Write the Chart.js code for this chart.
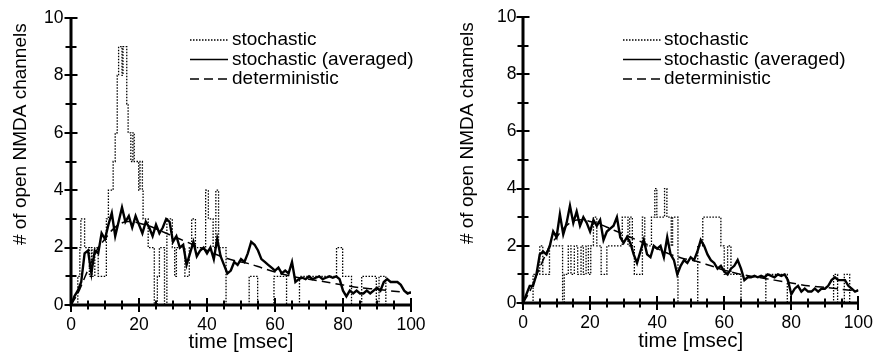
<!DOCTYPE html>
<html>
<head>
<meta charset="utf-8">
<script src="https://cdn.jsdelivr.net/npm/chart.js@4/dist/chart.umd.min.js"></script>
<style>
  body { margin: 0; background: #fff; }
  .panel { position: absolute; top: 0; width: 441px; height: 355px; }
</style>
</head>
<body>
<div class="panel" style="left:0"><canvas id="left" width="441" height="355"></canvas></div>
<div class="panel" style="left:442px"><canvas id="right" width="441" height="355"></canvas></div>
<script>
// labels
const seriesNames = ['stochastic', 'stochastic (averaged)', 'deterministic'];
const xTitle = 'time [msec]';
const yTitle = '# of open NMDA channels ';

// time grid of the averaged traces (msec)
const avgTime = [0,1,2,3,4,5,6,7,8,9,10,11,12,13,14,15,16,17,18,19,20,21,22,23,24,25,26,27,28,29,30,
  31,32,33,34,35,36,37,38,39,40,41,42,43,44,45,46,47,48,49,50,51,52,53,54,55,56,57,58,59,60,
  61,62,63,64,65,66,67,68,69,70,71,72,73,74,75,76,77,78,79,80,81,82,83,84,85,86,87,88,89,90,
  91,92,93,94,95,96,97,98,99,100];

// left panel: single stochastic run (step changes)
const leftStochT = [0,2.0,2.6,2.9,4.0,5.4,6.0,6.2,7.0,8.0,10.4,11.0,12.4,13.0,13.6,14.0,15.0,15.3,16.4,16.8,
  17.6,18.2,18.6,19.9,20.3,21.0,21.2,22.7,24.5,25.4,26.0,27.5,28.2,29.8,30.5,31.0,33.5,34.8,35.5,36.6,
  39.6,40.4,41.8,42.6,43.4,45.6,52.4,54.9,59.7,63.4,67.2,78.1,79.9,82.5,85.5,89.8,90.6,92.6,100];
const leftStochV = [0,1,2,3,2,1,2,1,2,1,3,4,5,6,8,9,8,9,7,6,
  5,6,5,4,5,4,3,2,0,1,2,0,3,2,1,2,1,2,3,2,
  4,3,2,4,2,0,1,0,1,0,1,2,1,0,1,0,1,0,0];

// left panel: averaged stochastic
const leftAvg = [0,0.3,0.5,0.8,1.8,1.9,1.1,1.9,1.8,2.5,2.3,
  2.8,3.2,2.4,2.9,3.4,2.9,3.1,2.7,3.1,2.8,
  2.5,2.9,2.7,2.4,2.8,2.5,2.7,3.0,2.9,2.2,
  2.4,2.0,2.1,1.4,1.8,2.2,1.7,1.9,2.0,1.8,
  2.0,1.6,2.3,1.7,1.4,1.1,1.2,1.5,1.4,1.6,
  1.5,1.8,2.2,2.1,1.9,1.6,1.5,1.4,1.3,1.2,
  1.3,1.1,1.2,1.1,1.5,0.8,0.9,0.95,0.9,1.0,
  0.9,0.95,1.0,0.9,0.95,1.0,0.95,1.0,0.9,0.5,
  0.3,0.5,0.4,0.5,0.4,0.4,0.5,0.4,0.5,0.6,
  0.5,0.8,0.9,0.8,0.8,0.8,0.7,0.5,0.4,0.45];

// right panel: single stochastic run (step changes)
const rightStochT = [0,3.0,5.0,5.9,7.9,11.8,12.3,13.5,14.3,15.3,16.3,17.3,18.0,18.8,19.5,20.2,21.0,22.0,23.3,25.0,
  29.6,31.3,31.8,32.6,33.2,35.6,36.3,38.3,39.3,39.9,42.2,42.9,44.2,44.6,46.2,52.1,53.6,59.0,60.0,61.0,
  62.0,65.0,72.4,78.8,92.6,93.8,95.8,97.4,100];
const rightStochV = [0,1,2,1,2,0,1,2,1,2,1,2,1,2,1,2,3,2,1,2,
  3,2,3,2,1,3,2,3,4,3,4,3,2,3,0,2,3,2,1,2,
  1,0,1,0,1,0,1,0,0];

// right panel: averaged stochastic
const rightAvg = [0,0.3,0.6,0.6,1.0,1.7,1.8,1.7,2.0,2.5,2.3,
  3.1,2.4,2.8,3.4,2.8,3.2,2.7,3.0,2.8,2.5,
  2.9,2.7,2.9,2.2,2.5,2.6,2.7,3.0,2.3,2.1,
  2.3,2.1,1.7,1.4,1.8,2.2,1.7,1.6,2.0,1.9,
  2.0,1.6,2.3,1.7,1.5,1.0,1.3,1.5,1.4,1.6,
  1.5,1.8,2.2,2.0,1.7,1.5,1.4,1.2,1.3,1.1,
  1.0,1.2,1.3,1.5,1.2,0.8,0.9,0.9,0.95,0.9,
  0.95,0.9,1.0,0.95,0.9,1.0,0.95,1.0,0.8,0.3,
  0.5,0.6,0.4,0.5,0.4,0.4,0.5,0.4,0.5,0.5,
  0.6,0.8,0.9,0.8,0.8,0.8,0.6,0.5,0.4,0.45];

// deterministic solution (same in both panels)
const detT = [0,2,4,6,8,10,12,14,16,18,20,23,26,29,32,36,40,44,48,52,56,60,65,70,75,80,85,90,95,100];
const detV = [0,0.4,0.95,1.5,2.0,2.3,2.6,2.8,2.9,2.9,2.85,2.75,2.6,2.45,2.3,2.1,1.9,1.7,1.55,1.45,
  1.3,1.15,1.0,0.9,0.8,0.7,0.6,0.55,0.48,0.42];

Chart.defaults.font.family = "'Liberation Sans', Arial, Helvetica, sans-serif";
Chart.defaults.color = '#000';

function pts(xs, ys) {
  return xs.map((x, i) => ({ x: x, y: ys[i] }));
}

// thick axis lines with ticks that cross them, like the original figure
const crossTicks = {
  id: 'crossTicks',
  afterDraw(chart) {
    const ctx = chart.ctx;
    const area = chart.chartArea;
    const xs = chart.scales.x, ys = chart.scales.y;
    ctx.save();
    ctx.strokeStyle = '#000';
    ctx.lineWidth = 3;
    ctx.beginPath();
    ctx.moveTo(area.left, area.top);
    ctx.lineTo(area.left, area.bottom);
    ctx.lineTo(area.right, area.bottom);
    ctx.stroke();
    ctx.lineWidth = 2;
    ctx.beginPath();
    xs.ticks.forEach(t => {
      const px = Math.round(xs.getPixelForValue(t.value));
      const len = t.value % 20 === 0 ? 7 : 4.5;
      ctx.moveTo(px, area.bottom - len);
      ctx.lineTo(px, area.bottom + len);
    });
    ys.ticks.forEach(t => {
      const py = Math.round(ys.getPixelForValue(t.value));
      const len = t.value % 2 === 0 ? 6.5 : 5.5;
      ctx.moveTo(area.left - len, py);
      ctx.lineTo(area.left + len, py);
    });
    ctx.stroke();
    ctx.restore();
  }
};

// legend drawn as a column of line samples inside the plot
const lineLegend = {
  id: 'lineLegend',
  afterDraw(chart, args, opts) {
    const ctx = chart.ctx;
    ctx.save();
    ctx.font = opts.size + "px 'Liberation Sans', Arial, sans-serif";
    ctx.fillStyle = '#000';
    ctx.textBaseline = 'middle';
    chart.data.datasets.forEach((ds, i) => {
      const yy = opts.y + i * opts.gap;
      ctx.strokeStyle = ds.borderColor;
      ctx.lineWidth = Math.min(ds.borderWidth, 1.5);
      ctx.setLineDash(ds.borderDash || []);
      ctx.beginPath();
      ctx.moveTo(opts.x, yy);
      ctx.lineTo(opts.x + opts.len, yy);
      ctx.stroke();
      ctx.fillText(ds.label, opts.x + opts.len + opts.textGap, yy);
    });
    ctx.restore();
  }
};

function drawPanel(id, stochT, stochV, avgV, lay) {
  new Chart(document.getElementById(id), {
    type: 'line',
    data: {
      datasets: [
        {
          label: seriesNames[0],
          data: pts(stochT, stochV),
          stepped: true,
          borderColor: '#000',
          borderWidth: 1.3,
          borderDash: [1.5, 1.5],
          pointRadius: 0
        },
        {
          label: seriesNames[1],
          data: pts(avgTime, avgV),
          borderColor: '#000',
          borderWidth: 2.4,
          pointRadius: 0,
          tension: 0
        },
        {
          label: seriesNames[2],
          data: pts(detT, detV),
          borderColor: '#000',
          borderWidth: 1.5,
          borderDash: [9, 5],
          pointRadius: 0,
          tension: 0.3
        }
      ]
    },
    options: {
      responsive: false,
      animation: false,
      layout: { padding: { top: lay.top, right: lay.right, bottom: 0, left: 0 } },
      scales: {
        x: {
          type: 'linear',
          min: 0,
          max: 100,
          grid: { display: false, drawTicks: false },
          border: { display: false },
          ticks: {
            stepSize: 5,
            autoSkip: false,
            maxRotation: 0,
            padding: 10,
            font: { size: 17.5 },
            callback: v => (v % 20 === 0 ? v : '')
          },
          title: { display: true, text: xTitle, font: { size: 20.5 }, padding: { top: 0, bottom: lay.xTitlePad } },
          afterFit: s => { s.height = lay.xHeight; }
        },
        y: {
          min: 0,
          max: 10,
          grid: { display: false, drawTicks: false },
          border: { display: false },
          ticks: {
            stepSize: 1,
            autoSkip: false,
            padding: lay.yTickPad,
            font: { size: 17.5 },
            callback: v => (v % 2 === 0 ? v : '')
          },
          title: { display: true, text: yTitle, align: 'end', font: { size: 19 }, padding: { top: lay.yTitlePad, bottom: 0 } },
          afterFit: s => { s.width = lay.yWidth; }
        }
      },
      plugins: {
        legend: { display: false },
        tooltip: { enabled: false },
        lineLegend: { x: lay.legX, y: 40, gap: 19.5, len: 38, textGap: lay.legGap, size: 19 }
      }
    },
    plugins: [crossTicks, lineLegend]
  });
}

drawPanel('left', leftStochT, leftStochV, leftAvg,
  { top: 18, right: 30, xHeight: 50, yWidth: 71, xTitlePad: 0.5, yTitlePad: 9, yTickPad: 7.5, legX: 190, legGap: 4 });
drawPanel('right', rightStochT, rightStochV, rightAvg,
  { top: 16, right: 21, xHeight: 52, yWidth: 81, xTitlePad: 1.5, yTitlePad: 14.6, yTickPad: 6.5, legX: 181, legGap: 3 });
</script>
</body>
</html>
